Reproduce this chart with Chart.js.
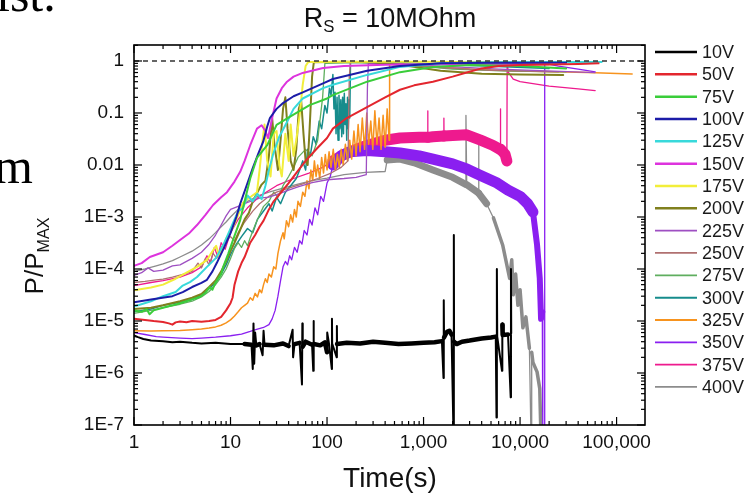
<!DOCTYPE html>
<html>
<head>
<meta charset="utf-8">
<script src="https://cdn.jsdelivr.net/npm/chart.js@4.4.1/dist/chart.umd.min.js"></script>
<style>
html, body { margin: 0; padding: 0; background: #fff; }
#wrap { position: relative; width: 754px; height: 499px; overflow: hidden; font-family: "Liberation Sans", Arial, sans-serif; color: #111; }
canvas { position: absolute; left: 0; top: 0; }
.frag { position: absolute; font-family: "Liberation Serif", "Times New Roman", serif; font-size: 50px; line-height: 1; color: #000; white-space: nowrap; }
#title { position: absolute; left: 0; width: 780px; top: 3px; text-align: center; font-size: 27px; white-space: nowrap; }
#title sub, #ylab sub { font-size: 62%; vertical-align: -0.32em; }
#ylab { position: absolute; left: 36px; top: 256px; transform: translate(-50%, -50%) rotate(-90deg); font-size: 26px; white-space: nowrap; }
#xlab { position: absolute; left: 0; width: 780px; top: 462px; text-align: center; font-size: 28px; }
</style>
</head>
<body>
<div id="wrap">
  <canvas id="c" width="754" height="499"></canvas>
  <div class="frag" style="left:-4px; top:-31px;">ist.</div>
  <div class="frag" style="left:-6px; top:141px;">m</div>
  <div id="title">R<sub>S</sub> = 10MOhm</div>
  <div id="ylab">P/P<sub>MAX</sub></div>
  <div id="xlab">Time(s)</div>
</div>
<script>
// ================= DATA =================
// [time (s), P/Pmax]
const v10 = [[1,5.3e-6],[1.1,4.9e-6],[1.25,4.5e-6],[1.5,4.2e-6],[2,4.1e-6],[2.5,3.9e-6],[3,4.0e-6],[4,3.8e-6],[5,3.7e-6],[7,3.8e-6],[10,3.6e-6],[14,3.6e-6],[16.5,3.5e-6],
  [17,1.2e-6],[17.3,9e-6],[17.6,1.5e-6],[18,6e-6],[18.5,3.4e-6],[20,3.6e-6],[21.5,2.2e-6],[22,6.5e-6],[22.5,3.5e-6],[28,3.4e-6],[35,3.7e-6],[40,3.3e-6],
  [44,6.8e-6],[44.5,2e-6],[46,3.6e-6],[52,3.8e-6],[55,6e-7],[55.5,9e-6],[56,3.2e-6],[60,4e-6],[70,3.5e-6],[72,1.1e-6],[72.5,1e-5],[73,3.6e-6],[85,3.4e-6],
  [95,3.9e-6],[100,2.5e-6],[100.5,6e-6],[105,3.6e-6],[112,1.2e-6],[112.5,1.1e-5],[113,3.7e-6],[126,2e-6],[126.5,8e-6],[127,3.6e-6],[160,3.8e-6],[220,3.7e-6],
  [300,4.0e-6],[400,3.8e-6],[550,3.6e-6],[750,3.7e-6],[1000,3.8e-6],[1300,3.9e-6],[1550,4.1e-6],[1610,8e-7],[1620,2.5e-5],[1630,4.8e-6],[1750,6.2e-6],
  [1850,6.5e-6],[1950,5.5e-6],[2050,5e-8],[2060,4.5e-4],[2070,4e-6],[2200,3.6e-6],[2500,4.0e-6],[3000,4.2e-6],[4000,4.6e-6],[5000,4.8e-6],[5600,5e-6],
  [5700,1.4e-7],[5750,1e-4],[5800,5e-6],[6500,1.1e-6],[6550,8.5e-6],[6600,5.4e-6],[7500,5.5e-6],[8000,3.4e-7],[8050,1e-4],[8100,5.8e-6]];
const v50 = [[1,1.1e-5],[1.3,1.05e-5],[1.6,1.0e-5],[2,9.6e-6],[2.3,9.0e-6],[2.5,8.5e-6],[2.7,9.4e-6],[3,9.8e-6],[3.5,9.5e-6],[4,1.0e-5],[5,9.7e-6],[6,1.0e-5],
  [7,1.05e-5],[8,1.2e-5],[9,1.6e-5],[10,2.2e-5],[10.5,2.8e-5],[11,5e-5],[12,9e-5],[13,1.3e-4],[14,1.7e-4],[16,3.2e-4],[18,4.5e-4],[20,6.5e-4],[22,8.5e-4],
  [25,1.4e-3],[28,2e-3],[32,2.7e-3],[40,4.5e-3],[49,7.4e-3],[60,0.012],[79,0.021],[100,0.033],[115,0.05],[160,0.08],[260,0.13],[400,0.2],[570,0.28],
  [800,0.34],[1250,0.4],[2000,0.5],[2800,0.6],[4000,0.72],[6000,0.8],[1e4,0.84],[2e4,0.86],[4e4,0.88],[6.5e4,0.9]];
const v75 = [[1,1.6e-5],[1.2,1.5e-5],[1.35,1.7e-5],[1.45,1.35e-5],[1.6,1.6e-5],[2,1.8e-5],[2.5,2.0e-5],[3,2.2e-5],[4,2.6e-5],[4.8,2.9e-5],[5.5,3.5e-5],
  [6.1,4.5e-5],[6.5,4.0e-5],[7,5.5e-5],[8,8e-5],[8.4,1.1e-4],[9.5,2.0e-4],[10.6,3.6e-4],[12.6,8.7e-4],[14,2e-3],[16,5.5e-3],[18.8,0.0137],[24,0.024],
  [30,0.059],[41,0.084],[66,0.142],[100,0.19],[115,0.22],[260,0.4],[570,0.61],[1250,0.77],[3000,0.84],[1e4,0.8],[3e4,0.72]];
const v100 = [[1,2.3e-5],[1.5,2.6e-5],[2.5,3.0e-5],[3.2,3.6e-5],[4,4.5e-5],[5,5.4e-5],[5.7,6.2e-5],[6.5,9e-5],[7.2,1.3e-4],[8.5,2.5e-4],[10,4.9e-4],
  [11.5,1e-3],[12.6,1.8e-3],[15,4.5e-3],[17,8.7e-3],[19.5,0.017],[21.8,0.028],[24,0.055],[25.6,0.08],[30,0.12],[35,0.155],[45,0.21],[56,0.25],[91,0.37],
  [115,0.45],[260,0.65],[570,0.8],[1500,0.9],[5000,0.93],[3e4,0.93]];
const v125 = [[1,1.9e-5],[1.5,2.4e-5],[2,3e-5],[2.7,3.6e-5],[3.2,4.8e-5],[3.8,5.6e-5],[4.5,7e-5],[5.7,1.1e-4],[7,1.6e-4],[8.5,3e-4],[10,6e-4],[12,1.3e-3],
  [13.5,1.5e-3],[15,2.6e-3],[17,2e-3],[19,2.8e-3],[21,2.2e-3],[23,4e-3],[25,8e-3],[27.5,0.0156],[32,0.035],[38.5,0.067],[45,0.12],[56,0.19],[91,0.3],
  [115,0.35],[260,0.54],[570,0.77],[1500,0.9],[5000,0.95],[2e4,0.96],[7e4,0.96]];
const v150 = [[1,1.15e-4],[1.2,1.3e-4],[1.46,1.7e-4],[2,2.1e-4],[2.5,2.8e-4],[3,3.6e-4],[3.7,4.8e-4],[4.5,7e-4],[5.5,1.1e-3],[6.6,1.7e-3],[8,2.4e-3],
  [9.2,3e-3],[11,4.8e-3],[12.6,7.4e-3],[14,0.012],[16,0.024],[18.8,0.05],[21,0.058],[23,0.045],[24.5,0.033],[27,0.08],[30,0.19],[34,0.3],[38.5,0.4],
  [45,0.5],[56,0.59],[91,0.73],[150,0.8],[400,0.85],[2000,0.88],[2e4,0.87]];
const v175 = [[1,3.9e-5],[1.5,4.4e-5],[2,5e-5],[2.7,6.5e-5],[3.5,8.5e-5],[4.5,1.1e-4],[5.7,1.5e-4],[6.5,2.2e-4],[7.1,2.8e-4],[7.6,1.8e-4],[8.3,2.4e-4],
  [9,3.8e-4],[10.5,6e-4],[12,1.1e-3],[13.5,1.9e-3],[15,2.2e-3],[16.5,2.5e-3],[18.8,3e-3],[20,0.008],[21.5,0.03],[22.5,0.06],[24,0.012],[26,0.006],[28,0.04],
  [30,0.045],[32,0.01],[34,0.006],[37,0.04],[40,0.012],[42,0.06],[45,0.015],[48,0.03],[52,0.09],[56,0.35],[60,0.8],[64,0.96],[200,0.97],[1000,0.97],
  [5000,0.95],[2e4,0.93]];
const v200 = [[1,1.7e-5],[1.5,1.8e-5],[2,2e-5],[3,2.4e-5],[4,2.8e-5],[5,3.3e-5],[6,4.5e-5],[7,6e-5],[8,9e-5],[9,1.4e-4],[10,2.2e-4],[11,3.2e-4],[12.5,5.5e-4],
  [14,9e-4],[15.5,1.2e-3],[17,2e-3],[19,3e-3],[21,4.2e-3],[23,5e-3],[25,0.015],[27,0.08],[28.5,0.025],[31,0.008],[33,0.03],[35,0.12],[37,0.2],[39,0.05],
  [42,0.012],[45,0.008],[48,0.02],[51,0.12],[54,0.17],[57,0.04],[60,0.012],[63,0.01],[66,0.05],[70,0.5],[73,0.95],[150,0.97],[300,0.95],[700,0.8],
  [1500,0.65],[4000,0.57],[1e4,0.55],[2.8e4,0.54]];
const v225 = [[1,7.5e-5],[1.2,8.5e-5],[1.4,1.05e-4],[1.6,9e-5],[2,9.5e-5],[2.5,1.15e-4],[3,1.2e-4],[3.5,1.4e-4],[4,1.6e-4],[5,2.1e-4],[6,3e-4],[7,4.5e-4],
  [8,7e-4],[9,1.05e-3],[10,1.4e-3],[12,1.6e-3],[15,1.9e-3],[20,2.3e-3],[25,2.4e-3],[30,2.7e-3],[40,3.3e-3],[50,3.8e-3],[70,4.6e-3],[100,5.2e-3],
  [150,5.5e-3],[200,5.8e-3],[255,6.5e-3],[262,0.3],[268,0.9],[500,0.88],[1500,0.8],[6000,0.7],[6e4,0.6]];
const v250 = [[1,5.5e-5],[1.3,5.8e-5],[1.7,6.2e-5],[2,6.4e-5],[2.5,7e-5],[3,7.6e-5],[3.5,8.2e-5],[4,9e-5],[4.6,1.3e-4],[5,1.05e-4],[5.5,1.6e-4],[6,1.2e-4],
  [6.6,2e-4],[7.2,1.6e-4],[8,2.6e-4],[9,3.5e-4],[10,4.2e-4],[11,3.5e-4],[12,5e-4],[14,8e-4],[17,1.3e-3],[20,1.8e-3],[25,2.5e-3],[30,3e-3],[40,3.6e-3],
  [55,4.3e-3],[80,5.5e-3],[110,7e-3],[140,9e-3],[165,0.012],[170,0.5],[175,0.95],[400,0.92],[1500,0.75],[5000,0.66],[2.5e4,0.62]];
const v275 = [[1,1.4e-5],[1.5,1.6e-5],[2,1.8e-5],[3,2.1e-5],[4,2.4e-5],[5,2.9e-5],[6,3.7e-5],[7,5e-5],[8,7e-5],[9,1.0e-4],[10,1.6e-4],[11,2.5e-4],[12,3.2e-4],
  [13,2.6e-4],[14,3.5e-4],[15,2.8e-4],[16,4e-4],[18,7e-4],[20,1.1e-3],[22,1.6e-3],[25,2e-3],[28,3e-3],[31,2.4e-3],[35,4e-3],[40,6e-3],[45,9e-3],[50,0.014],
  [60,0.02],[70,0.015],[80,0.03],[90,0.2],[95,0.9],[200,0.93],[600,0.85],[2000,0.7],[8000,0.64],[3e4,0.62]];
const v300 = [[1,1.5e-5],[1.5,1.7e-5],[2,2e-5],[3,2.3e-5],[4,2.6e-5],[5,3.2e-5],[6,4.2e-5],[7,5.5e-5],[8,8e-5],[9,1.2e-4],[10,1.9e-4],[11.5,3e-4],[13,4.2e-4],
  [15,6e-4],[17,5e-4],[19,9e-4],[22,1.3e-3],[25,1.8e-3],[27,1.3e-3],[30,2.4e-3],[33,1.8e-3],[37,3e-3],[42,4e-3],[48,5.5e-3],[52,8e-3],[56,0.012],[60,0.008],
  [63,0.02],[67,0.015],[72,0.035],[77,0.025],[83,0.07],[88,0.05],[95,0.14],[100,0.1],[106,0.3],[110,0.22],[115,0.55],[118,0.12],[121,0.25],[124,0.04],
  [127,0.2],[130,0.03],[133,0.22],[136,0.05],[139,0.18],[142,0.035],[145,0.2],[148,0.04],[151,0.24],[154,0.06],[157,0.15],[160,0.03],[163,0.2],[166,0.05],
  [169,0.18],[172,0.08],[175,0.95],[500,0.95],[2000,0.85],[2e4,0.72]];
const v325 = [[1,6.5e-6],[1.5,6.4e-6],[2,6.5e-6],[3,6.6e-6],[4,6.8e-6],[5,7e-6],[6,7.3e-6],[7,7.7e-6],[8,8.3e-6],[9,9.2e-6],[10,1.05e-5],[11,1.25e-5],[12,1.5e-5],
  [13,1.8e-5],[14,2e-5],[15,2.2e-5],[16,2.8e-5],[17,2.5e-5],[18,3.4e-5],[19,2.9e-5],[20,4e-5],[21,3.5e-5],[22,5e-5],[23,6.5e-5],[24,5.5e-5],[25,8e-5],
  [26.5,7e-5],[28,1.1e-4],[29.5,1e-4],[31,2e-4],[33,3.5e-4],[35,5e-4],[36,3.8e-4],[38,8.5e-4],[40,6.5e-4],[42,1.1e-3],[44,8e-4],[46,1.4e-3],[48,1e-3],
  [50,2e-3],[53,1.6e-3],[56,3e-3],[59,2.5e-3],[62,5e-3],[65,3.5e-3],[68,8e-3],[71,5e-3],[74,0.012],[77,6e-3],[80,0.01],[84,5.5e-3],[88,0.014],[92,7e-3],
  [96,0.016],[100,8e-3],[105,0.018],[110,9e-3],[116,0.02],[122,0.008],[128,0.016],[134,9e-3],[140,0.02],[147,0.01],[155,0.025],[163,0.012],[172,0.03],
  [180,0.013],[190,0.045],[200,0.015],[210,0.06],[220,0.018],[232,0.08],[245,0.02],[258,0.1],[270,0.025],[284,0.07],[298,0.02],[313,0.11],[329,0.025],
  [346,0.08],[363,0.02],[381,0.09],[400,0.022],[420,0.12],[440,0.03],[445,0.95],[1000,0.8],[3000,0.7],[1e4,0.64],[5e4,0.6],[1.45e5,0.56]];
const v350 = [[1,6e-6],[1.3,5.5e-6],[1.7,5e-6],[2,4.9e-6],[3,4.7e-6],[4,4.6e-6],[5,4.7e-6],[7,4.9e-6],[10,5.2e-6],[13,5.6e-6],[16,6.3e-6],[19,7e-6],[22,7.5e-6],
  [25,8.5e-6],[27,1.1e-5],[29,1.6e-5],[31,3e-5],[33,6e-5],[35,1.1e-4],[37,1.4e-4],[39,1.2e-4],[41,1.8e-4],[43,1.5e-4],[46,2.6e-4],[49,2.1e-4],[52,3.5e-4],
  [55,3e-4],[58,5.5e-4],[62,4.5e-4],[66,9e-4],[70,7e-4],[75,1.5e-3],[80,1.1e-3],[86,2.5e-3],[92,2e-3],[100,4.5e-3],[108,6e-3],[115,0.01],[140,0.015],
  [173,0.018],[260,0.019],[400,0.018],[570,0.017],[900,0.015],[1250,0.013],[2000,0.0105],[2800,8.4e-3],[3900,6.3e-3],[5800,4.5e-3],[7500,3.3e-3],[1e4,2.5e-3],
  [1.2e4,1.8e-3],[1.36e4,1.25e-3],[1.5e4,2.9e-4],[1.6e4,6.6e-5],[1.65e4,1.1e-5],[1.7e4,1.5e-5],[1.72e4,5e-8],[1.78e4,5e-8],[1.8e4,0.9],[2.5e4,0.8],
  [4e4,0.7],[6e4,0.62]];
const v375 = [[1,4.8e-5],[1.5,5.5e-5],[2,6e-5],[3,7e-5],[4,8.5e-5],[5,1.1e-4],[5.7,1.8e-4],[6.2,1.3e-4],[6.8,2.6e-4],[7.4,1.7e-4],[8,3.2e-4],[8.8,2.4e-4],
  [10,5e-4],[12,9e-4],[15,1.5e-3],[20,2.5e-3],[30,4e-3],[45,5.5e-3],[65,7e-3],[90,9e-3],[115,0.012],[146,0.0156],[200,0.02],[260,0.024],[400,0.03],
  [570,0.033],[900,0.034],[1100,0.034],[1105,0.11],[1110,0.034],[1250,0.035],[1620,0.036],[1625,0.08],[1630,0.036],[2000,0.037],[2800,0.038],[3900,0.03],
  [5200,0.024],[6200,0.02],[6250,0.12],[6300,0.02],[7000,0.016],[7300,0.012],[7350,0.85],[7600,0.6],[8500,0.45],[1e4,0.4],[2e4,0.33],[4e4,0.29],[6e4,0.27]];
const v400 = [[1,9e-5],[1.3,1e-4],[1.7,1.15e-4],[2,1.25e-4],[2.5,1.45e-4],[3,1.7e-4],[4,2.2e-4],[5,2.9e-4],[6,3.8e-4],[7,5e-4],[8,6.5e-4],[9,8e-4],[10,1e-3],
  [12,1.4e-3],[15,2e-3],[20,2.6e-3],[25,3e-3],[35,3.6e-3],[50,4.3e-3],[70,5e-3],[100,5.6e-3],[150,6.5e-3],[250,7.2e-3],[400,7.5e-3],[420,0.0125],
  [570,0.013],[800,0.011],[1250,8e-3],[2000,5.8e-3],[2700,4.3e-3],[2750,0.09],[2800,4.2e-3],[3700,2.9e-3],[3720,0.03],[3750,2.8e-3],[4500,1.8e-3],
  [5300,9.6e-4],[6600,2.9e-4],[7800,6.6e-5],[8200,1.5e-4],[8500,3.2e-5],[9000,8e-5],[9500,2e-5],[1e4,4e-5],[1.07e4,7.4e-6],[1.15e4,1.2e-5],[1.25e4,3e-6],
  [1.3e4,5e-8],[1.32e4,2.5e-6],[1.36e4,1.6e-6],[1.5e4,1.05e-6],[1.6e4,5e-7],[1.65e4,5e-8]];
const pmaxLine = [[1,1],[2e5,1]];

const seriesLabels = ['10V','50V','75V','100V','125V','150V','175V','200V','225V','250V','275V','300V','325V','350V','375V','400V'];
const seriesData = [v10, v50, v75, v100, v125, v150, v175, v200, v225, v250, v275, v300, v325, v350, v375, v400];

const xTickValues = [1, 10, 100, 1000, 10000, 100000];
const xTickLabels = ['1', '10', '100', '1,000', '10,000', '100,000'];
const yTickValues = [1e-7, 1e-6, 1e-5, 1e-4, 1e-3, 0.01, 0.1, 1];
const yTickLabels = ['1E-7', '1E-6', '1E-5', '1E-4', '1E-3', '0.01', '0.1', '1'];

// ================= STYLE =================
const seriesColors = ['#000000','#e3262e','#3acd3a','#1c1ca8','#38d9db','#dd33dd','#f2ee3a','#80801e',
  '#9e4fc2','#b07070','#5fae5f','#168c8c','#f7931e','#8a1ff0','#ee1a8e','#8c8c8c'];
const seriesWidths = [2, 2, 2, 2, 2, 2, 2, 2, 1.3, 1.3, 1.3, 1.5, 1.5, 1.3, 1.3, 1.3];
// noisy parts drawn as a fat band: [from t, to t, width, max log step]
const seriesBands = {
  0: [[14, 8200, 4.5, 0.2]],
  13: [[115, 13600, 11, 0.25], [13600, 17000, 6, 1.2]],
  14: [[115, 7300, 11, 0.25]],
  15: [[420, 5300, 7, 0.25], [5300, 16500, 3.5, 1.2]]
};

const FONT = '"Liberation Sans", Arial, sans-serif';

function bandSegment(bands) {
  if (!bands) return {};
  return {
    borderWidth: c => {
      const x0 = c.p0.parsed.x, x1 = c.p1.parsed.x;
      const dy = Math.abs(Math.log10(c.p1.parsed.y) - Math.log10(c.p0.parsed.y));
      const b = bands.find(b => x0 >= b[0] && x1 <= b[1] && dy < b[3]);
      return b ? b[2] : undefined;
    }
  };
}

const datasets = seriesData.map((d, i) => ({
  label: seriesLabels[i],
  data: d.map(([x, y]) => ({x, y})),
  borderColor: seriesColors[i],
  borderWidth: seriesWidths[i],
  borderJoinStyle: 'round',
  borderCapStyle: 'round',
  pointRadius: 0,
  tension: 0,
  segment: bandSegment(seriesBands[i])
}));
datasets.push({
  label: '',
  data: pmaxLine.map(([x, y]) => ({x, y})),
  borderColor: '#333',
  borderWidth: 1.3,
  borderDash: [5, 4],
  pointRadius: 0,
  order: -1
});

// ================= PLUGINS =================
const framePlugin = {
  id: 'frame',
  afterDatasetsDraw(chart) {
    const {ctx, chartArea: a, scales: {x, y}} = chart;
    ctx.save();
    ctx.strokeStyle = '#000';
    ctx.lineWidth = 1.2;
    const seg = (x1, y1, x2, y2) => { ctx.beginPath(); ctx.moveTo(x1, y1); ctx.lineTo(x2, y2); ctx.stroke(); };
    xTickValues.forEach(v0 => {
      for (let k = 1; k <= 9; k++) {
        const v = k * v0;
        if (v > x.max) break;
        const px = x.getPixelForValue(v);
        const len = k === 1 ? 8 : 4;
        seg(px, a.bottom, px, a.bottom - len);
        seg(px, a.top, px, a.top + len);
      }
    });
    yTickValues.forEach(v0 => {
      for (let k = 1; k <= 9; k++) {
        const v = k * v0;
        if (v > y.max) break;
        const py = y.getPixelForValue(v);
        const len = k === 1 ? 8 : 4;
        seg(a.left, py, a.left + len, py);
        seg(a.right, py, a.right - len, py);
      }
    });
    ctx.lineWidth = 1.6;
    ctx.strokeRect(a.left, a.top, a.right - a.left, a.bottom - a.top);
    ctx.restore();
  },
  afterDraw(chart) {
    const {ctx} = chart;
    ctx.save();
    ctx.font = '18px ' + FONT;
    ctx.textBaseline = 'middle';
    ctx.fillStyle = '#1a1a1a';
    chart.data.datasets.forEach((ds, i) => {
      if (!ds.label) return;
      const yy = 52 + i * 22.33;
      ctx.strokeStyle = ds.borderColor;
      ctx.lineWidth = ds.borderWidth + 0.5;
      ctx.setLineDash([]);
      ctx.beginPath(); ctx.moveTo(655, yy); ctx.lineTo(697, yy); ctx.stroke();
      ctx.fillText(ds.label, 702, yy + 1);
    });
    ctx.restore();
  }
};

new Chart(document.getElementById('c'), {
  type: 'line',
  data: { datasets },
  options: {
    responsive: false,
    animation: false,
    devicePixelRatio: 1,
    layout: { padding: { left: 0, top: 45, right: 109, bottom: 0 } },
    plugins: { legend: { display: false }, tooltip: { enabled: false } },
    scales: {
      x: {
        type: 'logarithmic', min: 1, max: 1.97e5,
        afterBuildTicks: s => { s.ticks = xTickValues.map(v => ({value: v})); },
        afterFit: s => { s.height = 74; },
        grid: { drawOnChartArea: false, drawTicks: false },
        border: { display: false },
        ticks: { autoSkip: false, maxRotation: 0, padding: 6, color: '#111', font: { family: FONT, size: 19 },
          callback: (v, i) => xTickLabels[i] }
      },
      y: {
        type: 'logarithmic', min: 1e-7, max: 2.03,
        afterBuildTicks: s => { s.ticks = yTickValues.map(v => ({value: v})); },
        afterFit: s => { s.width = 134; },
        grid: { drawOnChartArea: false, drawTicks: false },
        border: { display: false },
        ticks: { autoSkip: false, padding: 10, color: '#111', font: { family: FONT, size: 19 },
          callback: (v, i) => yTickLabels[i] }
      }
    }
  },
  plugins: [framePlugin]
});
</script>
</body>
</html>
